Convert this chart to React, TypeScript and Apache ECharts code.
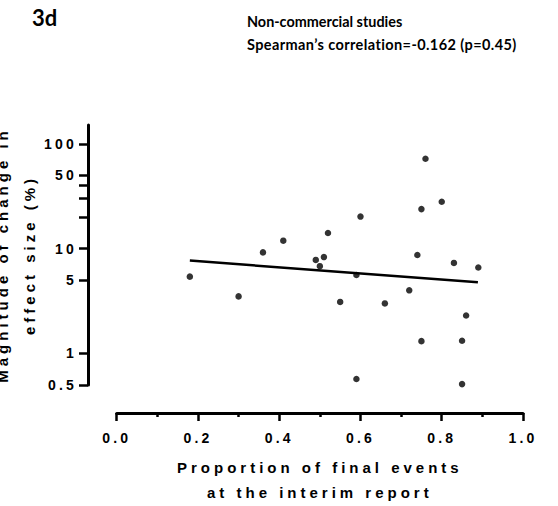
import React, { useEffect, useRef } from "react";
import * as echarts from "echarts";

// Proportion of final events at the interim report
const xValues = [0.18, 0.30, 0.36, 0.41, 0.49, 0.51, 0.50, 0.52, 0.55, 0.59, 0.60, 0.59, 0.66, 0.72, 0.74, 0.75, 0.76, 0.75, 0.80, 0.83, 0.86, 0.85, 0.85, 0.89];
// Magnitude of change in effect size (%)
const yValues = [5.4, 3.5, 9.2, 11.9, 7.8, 8.3, 6.8, 14.1, 3.1, 5.6, 20.2, 0.57, 3.0, 4.0, 8.7, 23.8, 72, 1.31, 28, 7.3, 2.3, 1.32, 0.51, 6.6];
// regression line end points
const fitX = [0.18, 0.889];
const fitY = [7.68, 4.77];

const yTickLabels = [0.5, 1, 5, 10, 50, 100];
const yTickAll = [0.5, 1, 5, 10, 20, 30, 40, 50, 100];
const yMin = 0.5;
const yMax = 151;

const FONT = "Liberation Sans";
const TITLE_FONT = "Lato";

export default function App() {
  const ref = useRef<HTMLDivElement>(null);

  useEffect(() => {
    if (!ref.current) return;
    const chart = echarts.init(ref.current, null, { renderer: "svg" });
    const lg = (v: number) => Math.log10(v);
    const axisText = { color: "#000", fontFamily: FONT, fontWeight: "bold" as const };

    chart.setOption({
      animation: false,
      backgroundColor: "#fff",
      grid: {
        left: 116.7,
        top: 125,
        width: 406.3,
        height: 260,
        containLabel: false,
        outerBoundsMode: "none",
      },
      xAxis: {
        type: "value",
        min: 0,
        max: 1,
        interval: 0.2,
        offset: 28,
        axisLine: { show: true, onZero: false, lineStyle: { color: "#000", width: 3 } },
        axisTick: { show: true, length: 8, lineStyle: { color: "#000", width: 2.5 } },
        minorTick: { show: true, splitNumber: 2, length: 4, lineStyle: { color: "#000", width: 2.5 } },
        splitLine: { show: false },
        minorSplitLine: { show: false },
        axisLabel: { ...axisText, fontSize: 14, margin: 18, formatter: (v: number) => v.toFixed(1) },
        name: "Proportion of final events\nat the interim report",
        nameLocation: "middle",
        nameGap: 41.5,
        nameTextStyle: { ...axisText, fontSize: 15, lineHeight: 25 },
      },
      yAxis: {
        type: "value",
        min: lg(yMin),
        max: lg(yMax),
        offset: 28.7,
        axisLine: { show: true, onZero: false, lineStyle: { color: "#000", width: 3 } },
        axisTick: {
          show: true,
          length: 9,
          lineStyle: { color: "#000", width: 2.5 },
          customValues: yTickAll.map(lg),
        },
        splitLine: { show: false },
        axisLabel: {
          ...axisText,
          fontSize: 14,
          margin: 11,
          customValues: yTickLabels.map(lg),
          formatter: (v: number) => {
            const r = Math.pow(10, v);
            return r < 1 ? r.toFixed(1) : String(Math.round(r));
          },
        },
        name: "Magnitude of change in\neffect size (%)",
        nameLocation: "middle",
        nameGap: 35,
        nameTextStyle: { ...axisText, fontSize: 15, lineHeight: 27 },
      },
      series: [
        {
          type: "scatter",
          data: xValues.map((x, i) => [x, lg(yValues[i])]),
          symbol: "circle",
          symbolSize: 6.5,
          itemStyle: { color: "#000" },
          z: 3,
        },
        {
          type: "line",
          data: fitX.map((x, i) => [x, lg(fitY[i])]),
          showSymbol: false,
          lineStyle: { color: "#000", width: 2.5 },
          z: 2,
        },
      ],
      graphic: [
        {
          type: "text",
          x: 32,
          y: 17,
          style: { text: "3d", font: `bold 22px ${TITLE_FONT}`, fill: "#000", textVerticalAlign: "middle" },
        },
        {
          type: "text",
          x: 247,
          y: 21.5,
          style: { text: "Non-commercial studies", font: `bold 14.4px ${TITLE_FONT}`, fill: "#000", textVerticalAlign: "middle" },
        },
        {
          type: "text",
          x: 247,
          y: 44.5,
          style: {
            text: "Spearman\u2019s correlation=-0.162 (p=0.45)",
            font: `bold 14.5px ${TITLE_FONT}`,
            fill: "#000",
            textVerticalAlign: "middle",
          },
        },
      ],
    });
    return () => chart.dispose();
  }, []);

  return (
    <>
      <style>{`
        .chart3d text[style*="14px"][style*="Liberation"] { letter-spacing: 3.2px; }
        .chart3d text[style*="15px"][style*="Liberation"] { letter-spacing: 4px; }
        .chart3d text[style*="14.5px"][style*="Lato"] { letter-spacing: 0.4px; }
      `}</style>
      <div
        ref={ref}
        className="chart3d"
        style={{ position: "fixed", left: 0, top: 0, width: 558, height: 506, background: "#fff" }}
      />
    </>
  );
}
